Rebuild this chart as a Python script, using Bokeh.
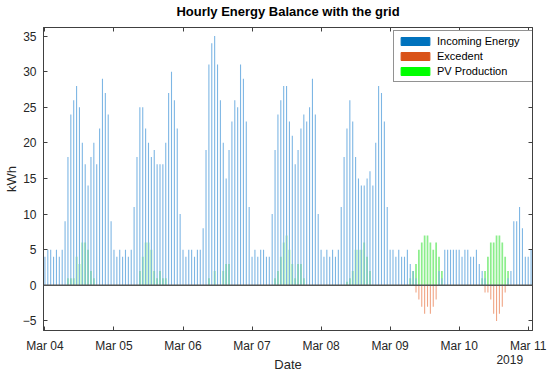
import pandas as pd
from bokeh.plotting import figure
from bokeh.models import (ColumnDataSource, Range1d, FixedTicker, DatetimeTickFormatter,
                          LinearAxis, DatetimeAxis, Span, Legend, LegendItem)
from bokeh.embed import file_html
from bokeh.resources import INLINE

# ---------------- data ----------------
title_text = "Hourly Energy Balance with the grid"
series_names = ["Incoming Energy", "Excedent", "PV Production"]
x_label = "Date"
y_label = "kWh"
start_time = "2019-03-04 00:00"
day_ticks = ["2019-03-04", "2019-03-05", "2019-03-06", "2019-03-07",
             "2019-03-08", "2019-03-09", "2019-03-10", "2019-03-11"]
y_ticks = [-5, 0, 5, 10, 15, 20, 25, 30, 35]

# hourly values, one line per day (Mar 04 ... Mar 10, then Mar 11 00:00-01:00)
incoming = [
    4, 5, 5, 4, 5, 4, 5, 9, 18, 24, 26, 28, 25, 20, 17, 14, 18, 20, 17, 22, 29, 27, 24, 9,
    5, 4, 5, 4, 5, 4, 5, 11, 18, 25, 25, 22, 20, 18, 19, 17, 17, 17, 20, 27, 30, 26, 22, 10,
    5, 4, 5, 5, 4, 5, 5, 8, 19, 31, 34, 35, 31, 26, 20, 15, 19, 23, 26, 25, 31, 29, 23, 11,
    4, 5, 4, 5, 5, 4, 4, 10, 19, 24, 26, 28, 28, 23, 21, 17, 19, 22, 24, 23, 25, 29, 24, 10,
    5, 4, 5, 4, 5, 4, 5, 11, 18, 22, 26, 23, 18, 15, 14, 14, 15, 16, 14, 20, 28, 27, 23, 11,
    5, 5, 4, 5, 4, 4, 5, 3, 2, 1, 0, 0, 0, 0, 0, 0, 0, 2, 1, 5, 5, 5, 5, 5,
    5, 4, 5, 5, 4, 4, 5, 3, 2, 1, 0, 0, 0, 0, 0, 0, 0, 1, 2, 9, 9, 11, 8, 4,
    4, 5,
]
excedent = [
    0, 0, 0, 0, 0, 0, 0, 0, 0, 0, 0, 0, 0, 0, 0, 0, 0, 0, 0, 0, 0, 0, 0, 0,
    0, 0, 0, 0, 0, 0, 0, 0, 0, 0, 0, 0, 0, 0, 0, 0, 0, 0, 0, 0, 0, 0, 0, 0,
    0, 0, 0, 0, 0, 0, 0, 0, 0, 0, 0, 0, 0, 0, 0, 0, 0, 0, 0, 0, 0, 0, 0, 0,
    0, 0, 0, 0, 0, 0, 0, 0, 0, 0, 0, 0, 0, 0, 0, 0, 0, 0, 0, 0, 0, 0, 0, 0,
    0, 0, 0, 0, 0, 0, 0, 0, 0, 0, 0, 0, 0, 0, 0, 0, 0, 0, 0, 0, 0, 0, 0, 0,
    0, 0, 0, 0, 0, 0, 0, 0, 0, -1, -2, -3, -4, -3, -4, -3, -2, 0, 0, 0, 0, 0, 0, 0,
    0, 0, 0, 0, 0, 0, 0, 0, 0, -1, -1, -2, -4, -5, -4, -3, -1, 0, 0, 0, 0, 0, 0, 0,
    0, 0,
]
pv_production = [
    0, 0, 0, 0, 0, 0, 0, 0, 1, 1, 1, 4, 3, 6, 6, 5, 2, 1, 0, 0, 0, 0, 0, 0,
    0, 0, 0, 0, 0, 0, 0, 0, 0, 2, 4, 6, 6, 5, 2, 1, 2, 1, 1, 0, 0, 0, 0, 0,
    0, 0, 0, 0, 0, 0, 0, 0, 0, 1, 0, 2, 0, 0, 2, 3, 3, 0, 0, 0, 0, 0, 0, 0,
    0, 0, 0, 0, 0, 0, 0, 0, 1, 2, 4, 6, 7, 5, 3, 1, 3, 3, 1, 0, 0, 0, 0, 0,
    0, 0, 0, 0, 0, 0, 0, 0, 0, 0.5, 1, 2, 5, 5, 5, 6, 4, 2, 0, 0, 0, 0, 0, 0,
    0, 0, 0, 0, 0, 0, 0, 1, 2, 3, 5, 6, 7, 7, 6, 5, 6, 4, 2, 0, 0, 0, 0, 0,
    0, 0, 0, 0, 0, 0, 0, 0, 1, 2, 4, 6, 6, 7, 7, 6, 4, 2, 0, 0, 0, 0, 0, 0,
    0, 0,
]

# ---------------- styling ----------------
FONT = "Liberation Sans"
TXT = "#262626"
AX = "#404040"
legend_colors = ["#0072BD", "#D95319", "#00FF00"]
bar_colors = ["#7DB6E4", "#F0A585", "#8CEE8C"]

times = pd.date_range(start_time, periods=len(incoming), freq="h")
src = ColumnDataSource(dict(t=times, inc=incoming, exc=excedent, pv=pv_production))
hour_ms = pd.Timedelta(hours=1).total_seconds() * 1000

x_start = times[0] - pd.Timedelta(minutes=30)
x_end = times[-1] + pd.Timedelta(minutes=30)

p = figure(width=550, height=377, x_axis_type="datetime",
           x_range=Range1d(x_start, x_end), y_range=Range1d(-6.35, 36.2),
           output_backend="svg", toolbar_location=None,
           min_border_left=43, min_border_right=18, min_border_top=27, min_border_bottom=47)
p.title = None
p.background_fill_color = "white"
p.border_fill_color = "white"
p.outline_line_color = AX
p.outline_line_width = 1
p.grid.visible = False

# bars
p.vbar(x="t", top="pv", bottom=0, width=0.6 * hour_ms, source=src,
       fill_color=bar_colors[2], line_color=None)
p.vbar(x="t", top="exc", bottom=0, width=0.38 * hour_ms, source=src,
       fill_color=bar_colors[1], line_color=None)
p.vbar(x="t", top="inc", bottom=0, width=0.38 * hour_ms, source=src,
       fill_color=bar_colors[0], line_color=None)

p.add_layout(Span(location=0, dimension="width", line_color="#555555", line_width=1.5))

# axes
tick_ts = [pd.Timestamp(d) for d in day_ticks]
tick_ms = [t.value / 1e6 for t in tick_ts]
fmt = DatetimeTickFormatter(days="%b %d", hours="%b %d", months="%b %d", hourmin="%b %d")


def style_axis(ax, show_labels=True):
    ax.axis_line_color = AX
    ax.major_tick_line_color = AX
    ax.major_tick_in = 4
    ax.major_tick_out = 0
    ax.minor_tick_line_color = None
    ax.major_label_text_font = FONT
    ax.major_label_text_color = TXT
    if show_labels:
        ax.major_label_text_font_size = "12px"
    else:
        ax.major_label_text_font_size = "0px"
        ax.major_label_text_color = None
        ax.major_label_standoff = 0


xa = p.xaxis[0]
xa.ticker = FixedTicker(ticks=tick_ms)
xa.formatter = fmt
style_axis(xa)
xa.major_label_standoff = 8

ya = p.yaxis[0]
ya.ticker = FixedTicker(ticks=y_ticks)
style_axis(ya)
ya.major_label_standoff = 7
ya.axis_label = y_label
ya.axis_label_standoff = 1
ya.axis_label_text_font = FONT
ya.axis_label_text_font_size = "13px"
ya.axis_label_text_font_style = "normal"
ya.axis_label_text_color = TXT

# top box edge with ticks; it also carries the chart title above the frame
top_ax = DatetimeAxis(ticker=FixedTicker(ticks=tick_ms), formatter=fmt)
style_axis(top_ax, show_labels=False)
top_ax.axis_label = title_text
top_ax.axis_label_standoff = 9
top_ax.axis_label_text_font = FONT
top_ax.axis_label_text_font_size = "13px"
top_ax.axis_label_text_font_style = "bold"
top_ax.axis_label_text_color = "#000000"
p.add_layout(top_ax, "above")
right_ax = LinearAxis(ticker=FixedTicker(ticks=y_ticks))
style_axis(right_ax, show_labels=False)
p.add_layout(right_ax, "right")

# secondary date row: year label (under the right end) and the axis title "Date"
year_tick = (tick_ts[-1] - pd.Timedelta(hours=6.4)).value / 1e6
year_fmt = DatetimeTickFormatter(**{k: "%Y" for k in
                                    ["microseconds", "milliseconds", "seconds", "minsec",
                                     "minutes", "hourmin", "hours", "days", "months", "years"]})
year_ax = DatetimeAxis(ticker=FixedTicker(ticks=[year_tick]), formatter=year_fmt)
year_ax.axis_line_color = None
year_ax.major_tick_line_color = None
year_ax.minor_tick_line_color = None
year_ax.major_label_text_font = FONT
year_ax.major_label_text_font_size = "12px"
year_ax.major_label_text_color = TXT
year_ax.major_label_standoff = -7
year_ax.axis_label = x_label
year_ax.axis_label_standoff = -10
year_ax.axis_label_text_font = FONT
year_ax.axis_label_text_font_size = "13px"
year_ax.axis_label_text_font_style = "normal"
year_ax.axis_label_text_color = TXT
p.add_layout(year_ax, "below")

# legend (full-colour patches from proxy renderers that draw nothing)
items = []
for name, col in zip(series_names, legend_colors):
    proxy = ColumnDataSource(dict(t=[times[0]], v=[float("nan")]))
    r = p.vbar(x="t", top="v", width=1, source=proxy, fill_color=col, line_color=col)
    items.append(LegendItem(label=name, renderers=[r]))
legend = Legend(items=items, location=(350, 248))
legend.glyph_width = 36
legend.glyph_height = 10
legend.label_height = 14
legend.spacing = 1
legend.padding = 3
legend.margin = 0
legend.label_standoff = 4
legend.label_width = 98
legend.label_text_font = FONT
legend.label_text_font_size = "11px"
legend.label_text_color = "#000000"
legend.border_line_color = "#262626"
legend.border_line_width = 1
legend.background_fill_color = "white"
legend.background_fill_alpha = 1
p.add_layout(legend, "center")

open("out.html", "w").write(file_html(p, INLINE))
